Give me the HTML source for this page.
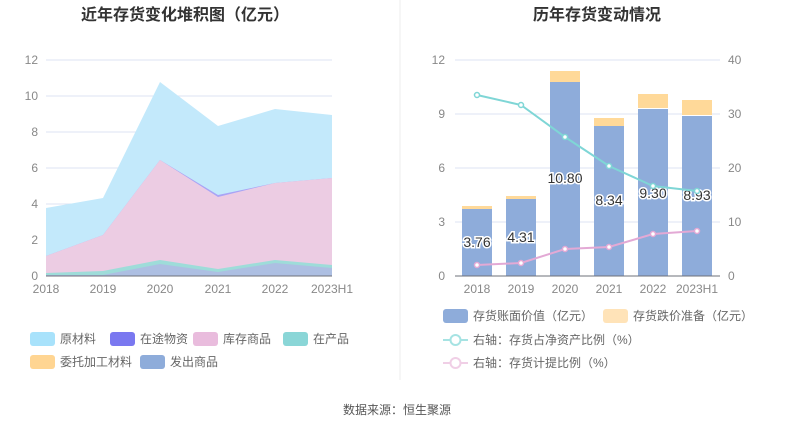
<!DOCTYPE html><html><head><meta charset="utf-8"><style>body{margin:0;background:#fff;width:794px;height:432px;overflow:hidden;font-family:"Liberation Sans","Noto Sans CJK SC",sans-serif}</style></head><body>
<svg width="794" height="432" xmlns="http://www.w3.org/2000/svg" font-family="Liberation Sans, Noto Sans CJK SC, sans-serif">
<text x="185" y="20" font-size="16" font-weight="bold" text-anchor="middle" fill="#333">近年存货变化堆积图（亿元）</text>
<text x="597" y="20" font-size="16" font-weight="bold" text-anchor="middle" fill="#333">历年存货变动情况</text>
<line x1="400" y1="0" x2="400" y2="380" stroke="#eee"/>
<g stroke="#dde3f3" stroke-width="1">
<line x1="46" y1="60" x2="332" y2="60"/><line x1="46" y1="96" x2="332" y2="96"/><line x1="46" y1="132" x2="332" y2="132"/><line x1="46" y1="168" x2="332" y2="168"/><line x1="46" y1="204" x2="332" y2="204"/><line x1="46" y1="240" x2="332" y2="240"/>
<line x1="455" y1="60" x2="720" y2="60"/><line x1="455" y1="114" x2="720" y2="114"/><line x1="455" y1="168" x2="720" y2="168"/><line x1="455" y1="222" x2="720" y2="222"/>
</g>
<g font-size="12" fill="#888" text-anchor="end">
<text x="38" y="64">12</text><text x="38" y="100">10</text><text x="38" y="136">8</text><text x="38" y="172">6</text><text x="38" y="208">4</text><text x="38" y="244">2</text><text x="38" y="280">0</text>
<text x="445" y="64">12</text><text x="445" y="118">9</text><text x="445" y="172">6</text><text x="445" y="226">3</text><text x="445" y="280">0</text>
</g>
<g font-size="12" fill="#888">
<text x="728" y="64">40</text><text x="728" y="118">30</text><text x="728" y="172">20</text><text x="728" y="226">10</text><text x="728" y="280">0</text>
</g>
<polygon points="46,208 103,198 160,82 218,126 275,109 332,115 332,276 46,276" fill="#c3e9fb"/>
<polygon points="46,256 103,235 160,160 218,195 275,183 332,178 332,276 46,276" fill="#a9a4f5"/>
<polygon points="46,256 103,235 160,160 218,197 275,183 332,178 332,276 46,276" fill="#ecccE3"/>
<polygon points="46,273 103,271 160,260 218,269 275,260 332,265 332,276 46,276" fill="#9edcd9"/>
<polygon points="46,275 103,275 160,264 218,272 275,263 332,268 332,276 46,276" fill="#adbfe2"/>
<line x1="46" y1="276" x2="332" y2="276" stroke="#6e7079"/>
<g font-size="12" fill="#888" text-anchor="middle">
<text x="46" y="293">2018</text><text x="103" y="293">2019</text><text x="160" y="293">2020</text><text x="218" y="293">2021</text><text x="275" y="293">2022</text><text x="332" y="293">2023H1</text>
</g>
<g fill="#ffd999">
<rect x="462" y="206" width="30" height="3"/><rect x="506" y="196" width="30" height="3"/><rect x="550" y="71" width="30" height="11"/><rect x="594" y="118" width="30" height="8"/><rect x="638" y="94" width="30" height="14"/><rect x="682" y="100" width="30" height="15"/>
</g>
<g fill="#8eacda">
<rect x="462" y="209" width="30" height="67"/><rect x="506" y="199" width="30" height="77"/><rect x="550" y="82" width="30" height="194"/><rect x="594" y="126" width="30" height="150"/><rect x="638" y="109" width="30" height="167"/><rect x="682" y="116" width="30" height="160"/>
</g>
<line x1="455" y1="276" x2="720" y2="276" stroke="#6e7079"/>
<g font-size="14" fill="#333" text-anchor="middle" stroke="#fff" stroke-width="3" paint-order="stroke">
<text x="477" y="247">3.76</text><text x="521" y="242">4.31</text><text x="565" y="183">10.80</text><text x="609" y="205">8.34</text><text x="653" y="198">9.30</text><text x="697" y="200">8.93</text>
</g>
<polyline points="477,95 521,105 565,137 609,166 653,186 697,191" fill="none" stroke="#7fd6d6" stroke-width="2"/>
<polyline points="477,265 521,263 565,249 609,247 653,234 697,231" fill="none" stroke="#e3a9d5" stroke-width="2"/>
<g fill="#fff" stroke="#7fd6d6" stroke-width="1.5"><circle cx="477" cy="95" r="2.5"/><circle cx="521" cy="105" r="2.5"/><circle cx="565" cy="137" r="2.5"/><circle cx="609" cy="166" r="2.5"/><circle cx="653" cy="186" r="2.5"/><circle cx="697" cy="191" r="2.5"/></g>
<g fill="#fff" stroke="#e3a9d5" stroke-width="1.5"><circle cx="477" cy="265" r="2.5"/><circle cx="521" cy="263" r="2.5"/><circle cx="565" cy="249" r="2.5"/><circle cx="609" cy="247" r="2.5"/><circle cx="653" cy="234" r="2.5"/><circle cx="697" cy="231" r="2.5"/></g>
<g font-size="12" fill="#888" text-anchor="middle">
<text x="477" y="293">2018</text><text x="521" y="293">2019</text><text x="565" y="293">2020</text><text x="609" y="293">2021</text><text x="653" y="293">2022</text><text x="697" y="293">2023H1</text>
</g>
<g font-size="12" fill="#666">
<rect x="30" y="332" width="25" height="14" rx="3" fill="#a8e2fb"/><text x="60" y="343">原材料</text>
<rect x="110" y="332" width="25" height="14" rx="3" fill="#7a78f0"/><text x="140" y="343">在途物资</text>
<rect x="193" y="332" width="25" height="14" rx="3" fill="#e9bcdd"/><text x="223" y="343">库存商品</text>
<rect x="283" y="332" width="25" height="14" rx="3" fill="#8ad6d7"/><text x="313" y="343">在产品</text>
<rect x="30" y="355" width="25" height="14" rx="3" fill="#ffd592"/><text x="60" y="366">委托加工材料</text>
<rect x="140" y="355" width="25" height="14" rx="3" fill="#8eacda"/><text x="170" y="366">发出商品</text>
</g>
<g font-size="12" fill="#666">
<rect x="443" y="309" width="25" height="14" rx="3" fill="#8eacda"/><text x="473" y="320">存货账面价值（亿元）</text>
<rect x="603" y="309" width="25" height="14" rx="3" fill="#ffe3b8"/><text x="633" y="320">存货跌价准备（亿元）</text>
<line x1="443" y1="340" x2="468" y2="340" stroke="#a6e3e3" stroke-width="2"/><circle cx="455.5" cy="340" r="5" fill="#fff" stroke="#a6e3e3" stroke-width="2"/><text x="473" y="344">右轴：存货占净资产比例（%）</text>
<line x1="443" y1="363" x2="468" y2="363" stroke="#f0cfe6" stroke-width="2"/><circle cx="455.5" cy="363" r="5" fill="#fff" stroke="#f0cfe6" stroke-width="2"/><text x="473" y="367">右轴：存货计提比例（%）</text>
</g>
<text x="397" y="414" font-size="12" fill="#555" text-anchor="middle">数据来源：恒生聚源</text>
</svg></body></html>
